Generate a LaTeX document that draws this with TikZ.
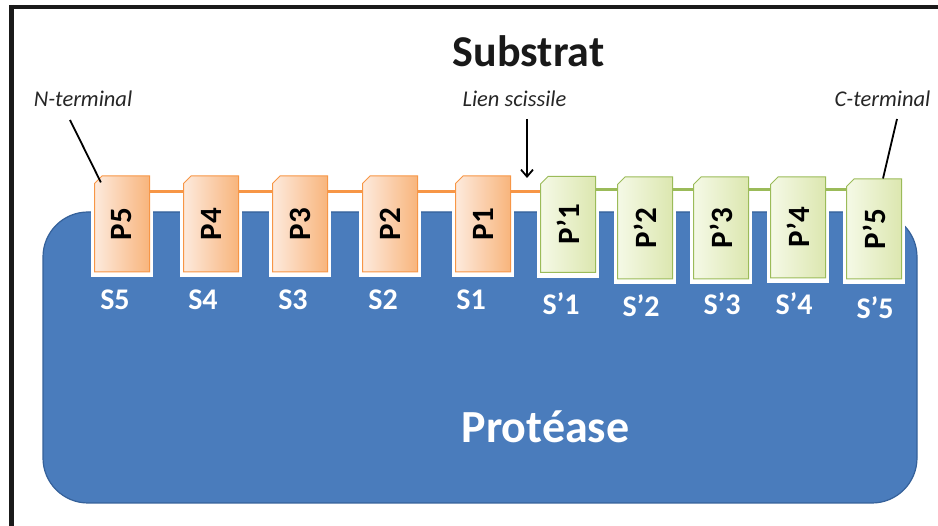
\documentclass[tikz,border=0pt]{standalone}
\usepackage{fontspec}
\setmainfont{Carlito}
\usetikzlibrary{shapes.misc,arrows.meta,backgrounds}
\definecolor{oB}{HTML}{F79646}
\definecolor{oL}{HTML}{FDEBDD}
\definecolor{oD}{HTML}{F8B47C}
\definecolor{gB}{HTML}{9BBB59}
\definecolor{gL}{HTML}{F5F9E6}
\definecolor{gD}{HTML}{DCE7B0}
\definecolor{pBlue}{HTML}{4A7CBC}
\definecolor{pBlueB}{HTML}{35619A}
\definecolor{frameC}{HTML}{1A1A1A}
\tikzset{
  resbox/.style={chamfered rectangle, chamfered rectangle corners=north west,
    chamfered rectangle xsep=3.5pt, chamfered rectangle ysep=4pt,
    minimum width=55pt, inner sep=0pt, line width=1pt,
    font=\bfseries\fontsize{31}{31}\selectfont, text=black},
  obox/.style={resbox, draw=oB, left color=oL, right color=oD},
  gbox/.style={resbox, draw=gB, left color=gL, right color=gD},
  slabel/.style={font=\bfseries\fontsize{30}{30}\selectfont, text=white, anchor=base, inner sep=0pt},
  note/.style={font=\itshape\fontsize{22.5}{22.5}\selectfont, text=black!85, anchor=base, inner sep=0pt},
  oline/.style={draw=oB, line width=3pt},
  gline/.style={draw=gB, line width=3pt},
  pointer/.style={draw=black, line width=1.8pt},
  halo/.style={fill=white}
}
\begin{document}
\begin{tikzpicture}[x=1pt,y=-1pt]
\useasboundingbox (0,0) rectangle (938,526);
% frame
\draw[frameC, line width=4pt] (9,7) -- (938,7);
\draw[frameC, line width=5pt] (11.5,5) -- (11.5,526);
% titles
\node[font=\bfseries\fontsize{44}{44}\selectfont, anchor=base, inner sep=0pt, text=black!90] (substrat) at (528.5,67) {Substrat};
\node[note] (nterm) at (83,107) {N-terminal};
\node[note] (lien) at (514.5,107) {Lien scissile};
\node[note] (cterm) at (882.5,107) {C-terminal};
% residue boxes
\node[obox, minimum height=96pt] (p5) at (122,224) {\rotatebox{90}{P5}};
\node[obox, minimum height=96pt] (p4) at (211,224) {\rotatebox{90}{P4}};
\node[obox, minimum height=96pt] (p3) at (300,224) {\rotatebox{90}{P3}};
\node[obox, minimum height=96pt] (p2) at (390,224) {\rotatebox{90}{P2}};
\node[obox, minimum height=96pt] (p1) at (483,224) {\rotatebox{90}{P1}};
\node[gbox, minimum height=96pt] (q1) at (568,224.5) {\rotatebox{90}{P’1}};
\node[gbox, minimum height=102pt] (q2) at (645,228) {\rotatebox{90}{P’2}};
\node[gbox, minimum height=102pt] (q3) at (721,228) {\rotatebox{90}{P’3}};
\node[gbox, minimum height=101pt] (q4) at (798,227.5) {\rotatebox{90}{P’4}};
\node[gbox, minimum height=100pt] (q5) at (874,229) {\rotatebox{90}{P’5}};
% protease and subsite labels
\begin{scope}[on background layer]
  \draw[fill=pBlue, draw=pBlueB, line width=1.2pt, rounded corners=45pt] (43,212) rectangle (917,503);
  \foreach \cx/\bt in {122/272,211/272,300/272,390/272,483/272,568/273,645/279,721/279,798/278,874/279}
    \fill[halo] (\cx-31,211) rectangle (\cx+31,\bt+5);
  \coordinate (lyo) at (0,192);
  \coordinate (lyg) at (0,190);
  \draw[oline] (p5.east |- lyo) -- (q1.west |- lyo);
  \draw[gline] (q1.east |- lyg) -- (q5.west |- lyg);
\end{scope}
\node[font=\bfseries\fontsize{46}{46}\selectfont, text=white, anchor=base, inner sep=0pt] (prot) at (545.5,443) {Protéase};
\node[slabel] (s5) at (115,310) {S5};
\node[slabel] (s4) at (203,310) {S4};
\node[slabel] (s3) at (293,310) {S3};
\node[slabel] (s2) at (383,310) {S2};
\node[slabel] (s1) at (471,310) {S1};
\node[slabel] (t1) at (561,315) {S’1};
\node[slabel] (t2) at (641,317) {S’2};
\node[slabel] (t3) at (722,315) {S’3};
\node[slabel] (t4) at (794,315) {S’4};
\node[slabel] (t5) at (875,319) {S’5};
% pointers
\coordinate (nt) at (70,120);
\coordinate (ct) at (897,119);
\coordinate (ls) at (527,119);
\coordinate (lsend) at (527,178);
\draw[pointer] (nt) -- ([xshift=3pt,yshift=-3pt]p5.north west);
\draw[pointer] (ct) -- ([xshift=9pt]q5.north);
\draw[pointer, -{Straight Barb[length=7pt,width=12pt]}] (ls) -- (lsend);
\end{tikzpicture}
\end{document}
